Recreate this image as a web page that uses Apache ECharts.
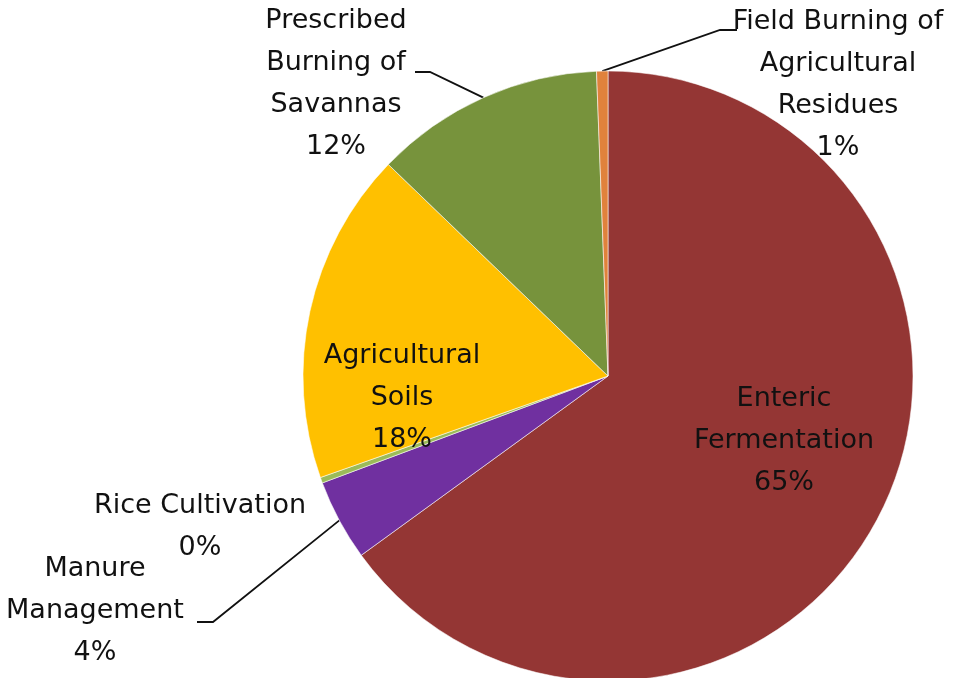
<!DOCTYPE html>
<html>
<head>
<meta charset="utf-8">
<script src="https://cdn.jsdelivr.net/npm/echarts@6/dist/echarts.min.js"></script>
<style>
  html, body { margin: 0; padding: 0; background: #fff; }
  #chart { width: 967px; height: 678px; }
</style>
</head>
<body>
<div id="chart"></div>
<script>
// slices, clockwise from 12 o'clock
const sources = [
  'Enteric\nFermentation',
  'Manure\nManagement',
  'Rice Cultivation',
  'Agricultural\nSoils',
  'Prescribed\nBurning of\nSavannas',
  'Field Burning of\nAgricultural\nResidues'
];
const shares = [65.0, 4.3, 0.3, 17.6, 12.2, 0.6];
const sliceColors = ['#943634', '#7030A0', '#9BBB59', '#FFC000', '#77933C', '#E0823C'];

// where each label block sits (center) and how its leader line bends
const labelSpots = [
  { x: 784, y: 441, inside: true },
  { x: 95, y: 611, bend: [213, 622], end: [197, 622] },
  { x: 200, y: 527, noLine: true },
  { x: 402, y: 398, inside: true },
  { x: 336, y: 84, bend: [430, 72], end: [415, 72] },
  { x: 838, y: 85, bend: [720, 30], end: [737, 30] }
];

const total = shares.reduce((a, b) => a + b, 0);

const chart = echarts.init(document.getElementById('chart'));

const data = sources.map((name, i) => {
  const spot = labelSpots[i];
  return {
    name: name,
    value: shares[i],
    itemStyle: { color: sliceColors[i] },
    label: { position: spot.inside ? 'inside' : 'outside' },
    labelLine: { show: !spot.inside && !spot.noLine }
  };
});

chart.setOption({
  animation: false,
  series: [
    {
      type: 'pie',
      center: [608, 376],
      radius: [0, 305],
      startAngle: 90,
      clockwise: true,
      avoidLabelOverlap: false,
      data: data,
      itemStyle: {
        borderColor: 'rgba(255,255,255,0.55)',
        borderWidth: 1
      },
      label: {
        show: true,
        formatter: (p) => p.name + '\n' + Math.round(p.value / total * 100) + '%',
        fontFamily: 'DejaVu Sans',
        fontSize: 27,
        lineHeight: 42,
        color: '#111',
        align: 'center'
      },
      labelLine: {
        lineStyle: { color: '#111', width: 1.8 }
      },
      labelLayout: (params) => {
        const spot = labelSpots[params.dataIndex];
        const out = {
          x: spot.x,
          y: spot.y,
          align: 'center',
          verticalAlign: 'middle'
        };
        if (spot.bend && params.labelLinePoints) {
          out.labelLinePoints = [params.labelLinePoints[0], spot.bend, spot.end];
        }
        return out;
      },
      emphasis: { disabled: true }
    }
  ]
});
</script>
</body>
</html>
